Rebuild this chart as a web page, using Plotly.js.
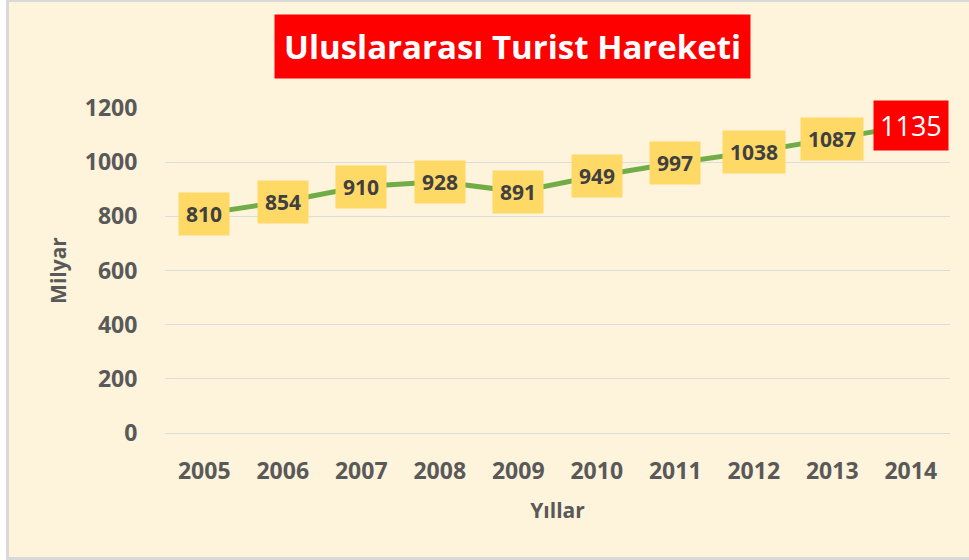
<!DOCTYPE html>
<html>
<head>
<meta charset="utf-8">
<script src="https://cdn.plot.ly/plotly-3.0.1.min.js"></script>
<style>
  html, body { margin: 0; padding: 0; background: #ffffff; }
  #chart { position: absolute; left: 6px; top: 0; width: 963px; height: 555px;
           border-left: 3px solid #D9D9D9; border-top: 2px solid #D9D9D9; border-bottom: 3px solid #D9D9D9; }
</style>
</head>
<body>
<div id="chart"></div>
<script>
const years = ['2005','2006','2007','2008','2009','2010','2011','2012','2013','2014'];
const values = [810, 854, 910, 928, 891, 949, 997, 1038, 1087, 1135];
const yTicks = [0, 200, 400, 600, 800, 1000, 1200];
const chartTitle = 'Uluslararası Turist Hareketi';
const xTitle = 'Yıllar';
const yTitle = 'Milyar';

const FONT = 'Open Sans, DejaVu Sans, sans-serif';
const bg = '#FEF3DB';
const last = values.length - 1;

const labelAnns = values.map((v, i) => ({
  x: i, y: v, xref: 'x', yref: 'y',
  text: String(v), showarrow: false,
  xanchor: 'center', yanchor: 'middle',
  bgcolor: i === last ? '#FF0000' : '#FFD966',
  borderpad: i === last ? 6 : 7,
  font: { family: FONT, size: i === last ? 27 : 21, color: i === last ? '#FFFFFF' : '#404040', weight: i === last ? 'normal' : 'bold' }
}));

const titleAnn = {
  xref: 'paper', yref: 'paper', x: 0.4433, y: 1.19,
  xanchor: 'center', yanchor: 'middle', showarrow: false,
  text: chartTitle, bgcolor: '#FF0000', borderpad: 9,
  font: { family: FONT, size: 33, color: '#FFFFFF', weight: 'bold' }
};

const trace = {
  type: 'scatter', mode: 'lines', x: years, y: values,
  line: { color: '#70AD47', width: 5 }, hoverinfo: 'skip'
};

const layout = {
  width: 960, height: 555,
  paper_bgcolor: bg, plot_bgcolor: bg,
  margin: { l: 156, r: 19, t: 106, b: 124 },
  showlegend: false,
  xaxis: {
    type: 'category', categoryarray: years, range: [-0.5, years.length - 0.5], autorange: false,
    showgrid: false, zeroline: false, showline: false,
    ticks: 'outside', ticklen: 17, tickcolor: 'rgba(0,0,0,0)',
    tickfont: { family: FONT, size: 23, color: '#595959', weight: 'bold' },
    title: { text: xTitle, standoff: 18, font: { family: FONT, size: 21, color: '#595959', weight: 'bold' } }
  },
  yaxis: {
    range: [0, 1200], autorange: false, tickvals: yTicks, ticktext: yTicks.map(String),
    showgrid: true, gridcolor: '#DCDCDC', gridwidth: 1,
    zeroline: true, zerolinecolor: '#DCDCDC', zerolinewidth: 1, showline: false,
    ticks: 'outside', ticklen: 22, tickcolor: 'rgba(0,0,0,0)',
    tickfont: { family: FONT, size: 23, color: '#595959', weight: 'bold' },
    title: { text: yTitle, standoff: 12, font: { family: FONT, size: 21, color: '#595959', weight: 'bold' } }
  },
  annotations: [titleAnn].concat(labelAnns)
};

Plotly.newPlot('chart', [trace], layout, { displayModeBar: false, staticPlot: true });
</script>
</body>
</html>
